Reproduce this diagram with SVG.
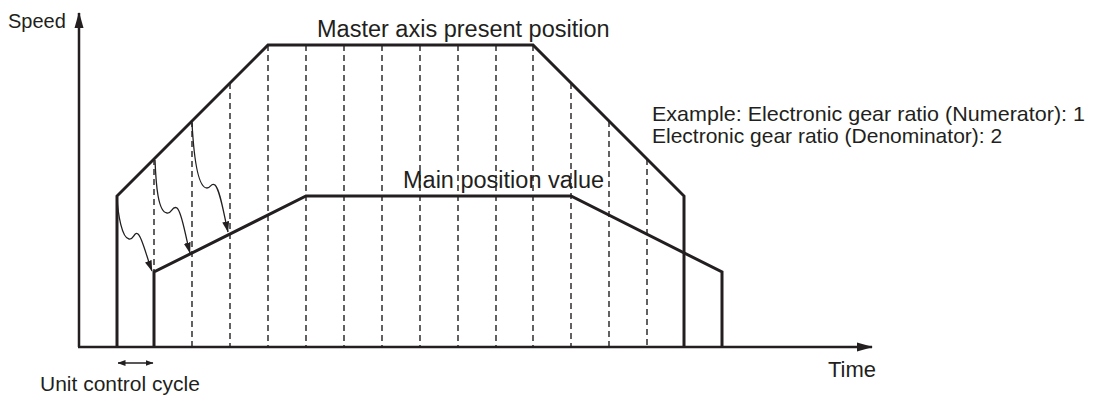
<svg xmlns="http://www.w3.org/2000/svg" width="1095" height="397" viewBox="0 0 1095 397">
  <style>
    .txt { font-family: "Liberation Sans", Arial, sans-serif; fill: #231f20; }
    .axis { stroke: #231f20; stroke-width: 2.5; fill: none; }
    .curve { stroke: #231f20; stroke-width: 3; fill: none; stroke-linejoin: miter; }
    .grid { stroke: #231f20; stroke-width: 1.4; stroke-dasharray: 6 4; fill: none; }
    .wave { stroke: #231f20; stroke-width: 1.3; fill: none; }
  </style>
  <defs>
    <marker id="axhead" viewBox="0 0 16 10" refX="15" refY="5" markerWidth="16" markerHeight="10" markerUnits="userSpaceOnUse" orient="auto">
      <path d="M0,0.5 L16,5 L0,9.5 Z" fill="#231f20"/>
    </marker>
    <marker id="wavehead" viewBox="0 0 11 7" refX="10.5" refY="3.5" markerWidth="11" markerHeight="7" markerUnits="userSpaceOnUse" orient="auto">
      <path d="M0,0 L11,3.5 L0,7 Z" fill="#231f20"/>
    </marker>
    <marker id="smallhead" viewBox="0 0 8 6" refX="7.5" refY="3" markerWidth="8" markerHeight="6" markerUnits="userSpaceOnUse" orient="auto-start-reverse">
      <path d="M0,0 L8,3 L0,6 Z" fill="#231f20"/>
    </marker>
  </defs>

  <g id="grid">
    <line class="grid" x1="154" y1="159" x2="154" y2="272"/>
    <line class="grid" x1="192" y1="121" x2="192" y2="347"/>
    <line class="grid" x1="230" y1="83" x2="230" y2="347"/>
    <line class="grid" x1="268" y1="45" x2="268" y2="347"/>
    <line class="grid" x1="306" y1="45" x2="306" y2="347"/>
    <line class="grid" x1="344" y1="45" x2="344" y2="347"/>
    <line class="grid" x1="382" y1="45" x2="382" y2="347"/>
    <line class="grid" x1="420" y1="45" x2="420" y2="347"/>
    <line class="grid" x1="458" y1="45" x2="458" y2="347"/>
    <line class="grid" x1="496" y1="45" x2="496" y2="347"/>
    <line class="grid" x1="533" y1="45" x2="533" y2="347"/>
    <line class="grid" x1="571" y1="83" x2="571" y2="347"/>
    <line class="grid" x1="609" y1="121" x2="609" y2="347"/>
    <line class="grid" x1="647" y1="159" x2="647" y2="347"/>
  </g>

  <g id="master-curve">
    <polyline class="curve" points="117,347 117,196 268,45 533,45 684,196 684,347"/>
  </g>

  <g id="slave-curve">
    <polyline class="curve" points="154,347 154,272 306,196 571,196 722,272 722,347"/>
  </g>

  <g id="axes">
    <line class="axis" x1="79" y1="347" x2="79" y2="13" marker-end="url(#axhead)"/>
    <line class="axis" x1="78" y1="347" x2="872" y2="347" marker-end="url(#axhead)"/>
  </g>

  <g id="connectors">
    <path class="wave" d="M117,197 C118,215 122,238 129,239 C134,240 134,231 138,234 C142,237 146,255 152,271" marker-end="url(#wavehead)"/>
    <path class="wave" d="M155,160 C156,185 158,212 167,213 C172,214 172,205 177,208 C182,212 185,235 190,253" marker-end="url(#wavehead)"/>
    <path class="wave" d="M192,123 C194,160 198,188 207,188 C211,188 211,182 215,185 C220,190 223,210 228,232" marker-end="url(#wavehead)"/>
    <line class="wave" x1="118" y1="363" x2="153" y2="363" marker-start="url(#smallhead)" marker-end="url(#smallhead)"/>
  </g>

  <g id="labels">
    <text class="txt" x="8" y="28" font-size="20">Speed</text>
    <text class="txt" x="828" y="377" font-size="22">Time</text>
    <text class="txt" x="317" y="37" font-size="23.5">Master axis present position</text>
    <text class="txt" x="403" y="188" font-size="23.5">Main position value</text>
    <text class="txt" x="652" y="121" font-size="21" textLength="433" lengthAdjust="spacingAndGlyphs">Example: Electronic gear ratio (Numerator): 1</text>
    <text class="txt" x="652" y="143" font-size="21">Electronic gear ratio (Denominator): 2</text>
    <text class="txt" x="40" y="391" font-size="21">Unit control cycle</text>
  </g>
</svg>
